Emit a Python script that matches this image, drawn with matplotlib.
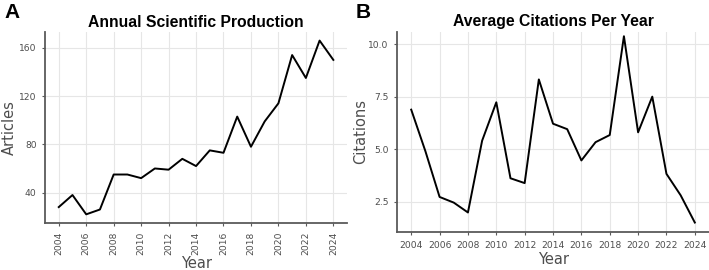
import matplotlib.pyplot as plt
import numpy as np

years = list(range(2004, 2025))
articles = [28, 38, 22, 26, 55, 55, 52, 60, 59, 68, 62, 75, 73, 103, 78, 99, 114, 154, 135, 166, 150]
citations = [6.88, 4.9, 2.72, 2.45, 1.98, 5.4, 7.23, 3.61, 3.38, 8.32, 6.21, 5.95, 4.46, 5.33, 5.67,
             10.38, 5.8, 7.5, 3.82, 2.8, 1.5]

year_ticks = list(range(2004, 2025, 2))
art_ticks = [40, 80, 120, 160]
cit_ticks = [2.5, 5.0, 7.5, 10.0]

grid_col = '#e6e6e6'
axis_col = '#5a5a5a'
text_col = '#4d4d4d'

fig = plt.figure(figsize=(7.09, 2.70), dpi=100)
ax1 = fig.add_axes([0.0635, 0.174, 0.426, 0.707])
ax2 = fig.add_axes([0.560, 0.140, 0.440, 0.743])


def style(ax):
    for s in ['top', 'right']:
        ax.spines[s].set_visible(False)
    for s in ['left', 'bottom']:
        ax.spines[s].set_color(axis_col)
        ax.spines[s].set_linewidth(1.3)
    ax.grid(True, color=grid_col, linewidth=0.8)
    ax.set_axisbelow(True)
    ax.tick_params(colors=axis_col, labelcolor=text_col, labelsize=6.6, length=2.5, width=0.8)


# panel A
ax1.plot(years, articles, color='black', linewidth=1.4)
ax1.set_xlim(2003, 2025)
ax1.set_ylim(14.8, 173)
ax1.set_xticks(year_ticks)
ax1.set_xticklabels([str(y) for y in year_ticks], rotation=90)
ax1.set_yticks(art_ticks)
style(ax1)
ax1.set_xlabel('Year', fontsize=10.5, color=text_col, labelpad=1)
ax1.set_ylabel('Articles', fontsize=10.5, color=text_col, labelpad=2)
ax1.set_title('Annual Scientific Production', fontsize=11.3, fontweight='bold',
              family='Liberation Sans', pad=4)

# panel B
ax2.plot(years, citations, color='black', linewidth=1.4)
ax2.set_xlim(2003, 2025)
ax2.set_ylim(1.04, 10.6)
ax2.set_xticks(year_ticks)
ax2.set_yticks(cit_ticks)
ax2.set_yticklabels(['%.1f' % v for v in cit_ticks])
style(ax2)
ax2.set_xlabel('Year', fontsize=10.5, color=text_col, labelpad=2)
ax2.set_ylabel('Citations', fontsize=10.5, color=text_col, labelpad=0)
ax2.set_title('Average Citations Per Year', fontsize=11.3, fontweight='bold',
              family='Liberation Sans', pad=4)

fig.text(0.006, 0.99, 'A', fontsize=15, fontweight='bold', family='Liberation Sans', va='top')
fig.text(0.502, 0.99, 'B', fontsize=15, fontweight='bold', family='Liberation Sans', va='top')

fig.savefig('out.png', dpi=100)
